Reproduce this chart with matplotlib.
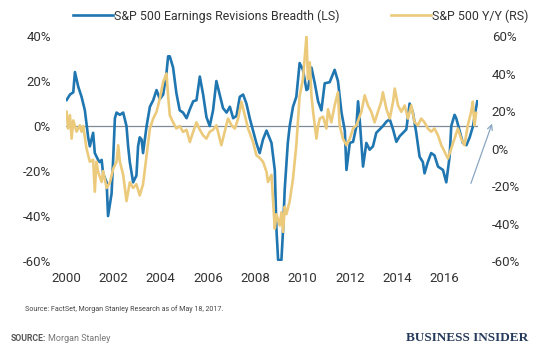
import matplotlib
matplotlib.use("Agg")
import matplotlib.pyplot as plt
from matplotlib.patches import FancyArrowPatch
from matplotlib.ticker import FuncFormatter

# S&P 500 Earnings Revisions Breadth (left scale, %)
breadth_years = [
    2000.02, 2000.16, 2000.30, 2000.37, 2000.51, 2000.65, 2000.79, 2000.93, 2001.00, 2001.14,
    2001.21, 2001.35, 2001.42, 2001.50, 2001.56, 2001.71, 2001.77, 2001.92, 2001.99, 2002.06,
    2002.13, 2002.27, 2002.41, 2002.55, 2002.62, 2002.69, 2002.83, 2002.97, 2003.04, 2003.11,
    2003.19, 2003.25, 2003.40, 2003.54, 2003.68, 2003.82, 2003.96, 2004.10, 2004.24, 2004.31,
    2004.38, 2004.52, 2004.66, 2004.80, 2004.94, 2005.09, 2005.23, 2005.37, 2005.51, 2005.65,
    2005.79, 2005.93, 2006.07, 2006.21, 2006.35, 2006.49, 2006.63, 2006.78, 2006.92, 2007.06,
    2007.20, 2007.34, 2007.48, 2007.62, 2007.76, 2007.90, 2008.04, 2008.18, 2008.32, 2008.47,
    2008.68, 2008.82, 2008.89, 2008.96, 2009.10, 2009.17, 2009.24, 2009.37, 2009.45, 2009.59,
    2009.73, 2009.87, 2010.01, 2010.16, 2010.22, 2010.37, 2010.51, 2010.65, 2010.79, 2010.93,
    2011.14, 2011.35, 2011.49, 2011.64, 2011.78, 2011.85, 2011.99, 2012.13, 2012.27, 2012.34,
    2012.41, 2012.55, 2012.69, 2012.83, 2012.97, 2013.11, 2013.25, 2013.39, 2013.54, 2013.68,
    2013.82, 2013.96, 2014.10, 2014.24, 2014.38, 2014.52, 2014.66, 2014.80, 2014.94, 2015.08,
    2015.15, 2015.29, 2015.43, 2015.57, 2015.72, 2015.93, 2016.07, 2016.21, 2016.28, 2016.42,
    2016.49, 2016.63, 2016.77, 2016.92, 2017.06, 2017.20, 2017.31, 2017.38,
]
breadth = [
    11.6, 14, 15, 24, 17.5, 13, 7, -5, -9, -3,
    -12, -15, -16, -15, -21, -25, -40, -30, -14, 3.5,
    6, 5, 6, 0, -9, -16, -25, -22, -9, -5,
    -6, -12, 0, 8.6, 11.5, 16, 12, 14, 23.5, 31,
    31, 26, 14.6, 7, 6, 3.5, 7.5, 11, 11.5, 22,
    14, 4, 0, 7, 20, 14, 8, 6, 8.6, 3.5,
    4.5, 13, 14, 10, 3.5, -2, -7.5, -12, -6, -2,
    -7.5, -19.6, -46, -59.5, -59.5, -46, -28, -7.5, 0, 8.6,
    13, 28, 25, 16, 16.5, 26, 19, 11, 7, 19,
    19.5, 25, 20, 6, -2, -19.5, -7.5, -7, 0, 11,
    2.7, -18, -7.5, -10.5, -9, -3, -1.5, 0, 2, 3,
    -1.5, -7, -4.5, -3, -1.5, 10, 6, -3, -13.6, -16,
    -21, -16, -12, -13, -18, -19.5, -25, -13.6, 0, 5,
    3.5, -2, -7.5, -8.5, -5, 0, 7, 11,
]

# S&P 500 Y/Y (right scale, %)
spx_years = [
    2000.02, 2000.08, 2000.16, 2000.23, 2000.30, 2000.44, 2000.58, 2000.65, 2000.72, 2000.86,
    2001.00, 2001.14, 2001.21, 2001.28, 2001.35, 2001.50, 2001.56, 2001.71, 2001.85, 2001.99,
    2002.13, 2002.20, 2002.27, 2002.41, 2002.55, 2002.69, 2002.83, 2002.97, 2003.11, 2003.25,
    2003.40, 2003.54, 2003.68, 2003.82, 2003.96, 2004.10, 2004.24, 2004.31, 2004.38, 2004.52,
    2004.66, 2004.80, 2004.94, 2005.09, 2005.23, 2005.37, 2005.51, 2005.65, 2005.79, 2005.93,
    2006.07, 2006.21, 2006.35, 2006.49, 2006.56, 2006.70, 2006.84, 2006.99, 2007.13, 2007.27,
    2007.41, 2007.55, 2007.69, 2007.90, 2008.04, 2008.18, 2008.32, 2008.47, 2008.53, 2008.68,
    2008.82, 2008.89, 2009.03, 2009.10, 2009.17, 2009.24, 2009.31, 2009.45, 2009.59, 2009.73,
    2009.87, 2010.01, 2010.16, 2010.22, 2010.30, 2010.37, 2010.44, 2010.58, 2010.65, 2010.72,
    2010.86, 2011.00, 2011.07, 2011.21, 2011.35, 2011.49, 2011.56, 2011.70, 2011.85, 2011.99,
    2012.13, 2012.27, 2012.48, 2012.62, 2012.76, 2012.90, 2013.04, 2013.18, 2013.32, 2013.39,
    2013.54, 2013.68, 2013.82, 2013.89, 2014.03, 2014.17, 2014.31, 2014.45, 2014.59, 2014.73,
    2014.87, 2015.01, 2015.15, 2015.29, 2015.43, 2015.57, 2015.72, 2015.86, 2016.00, 2016.14,
    2016.28, 2016.42, 2016.56, 2016.70, 2016.84, 2016.98, 2017.12, 2017.19, 2017.26, 2017.33,
]
spx = [
    19.6, 10.7, 17.8, 5.3, 15, 9, 12.4, 9, 12, 0,
    -7, -6, -23, -7, -12.4, -17.8, -12, -21, -18, -10.7,
    -7, 1.8, -7, -14, -28, -18, -21, -19, -25, -19,
    -3.5, 10.7, 16, 19.6, 26.7, 35.5, 40, 28, 17.8, 14,
    10.7, 12, 8.9, 10, 3.5, 9, 14, 10, 7, 5.3,
    9, 10, 12.4, 5.3, 1.8, 9, 16, 12.4, 10.7, 16,
    25, 17.8, 10.7, 3.5, -3.5, -5, -7, -12.4, -17.8, -14,
    -42.7, -35, -41, -34, -44.4, -31, -35, -28, -16, 1.8,
    28, 37, 60, 37, 46, 28, 19.6, 5.3, 12, 16,
    17, 10.7, 21, 14, 23, 30, 12.4, 5.3, 1.8, 5.3,
    10.7, 12.4, 19.6, 28.4, 23, 19.6, 14, 19.6, 25, 30,
    21, 16, 25, 32, 23, 19.6, 23, 16, 23, 14,
    12.4, 16, 14, 10.7, 9, 10.7, 7, 1.8, -1.8, -5.3,
    0, 5.3, 10.7, 5.3, 1.8, 12.4, 19.6, 25, 12.4, 19,
]

year_ticks = [2000, 2002, 2004, 2006, 2008, 2010, 2012, 2014, 2016]
left_ticks = [-60, -40, -20, 0, 20, 40]
right_ticks = [-60, -40, -20, 0, 20, 40, 60]

BLUE = "#1f76b0"
GOLD = "#ecca7c"
TEXT = "#333333"

plt.rcParams["font.family"] = ["Roboto", "DejaVu Sans"]

fig = plt.figure(figsize=(5.38, 3.5), dpi=100)
ax = fig.add_axes([0.123, 0.254, 0.765, 0.643])
ax2 = ax.twinx()

ax.axhline(0, color="#7d8b99", lw=0.9, zorder=1)
ax.plot(breadth_years, breadth, color=BLUE, lw=1.9, zorder=2,
        label="S&P 500 Earnings Revisions Breadth (LS)")
ax2.plot(spx_years, spx, color=GOLD, lw=1.9, zorder=2, label="S&P 500 Y/Y (RS)")

ax.set_xlim(2000, 2017.4)
ax.set_ylim(-60, 40)
ax2.set_ylim(-60, 60)
ax.set_xticks(year_ticks)
ax.set_yticks(left_ticks)
ax2.set_yticks(right_ticks)
pct = FuncFormatter(lambda v, p: f"{v:.0f}%")
ax.yaxis.set_major_formatter(pct)
ax2.yaxis.set_major_formatter(pct)

for a in (ax, ax2):
    for s in a.spines.values():
        s.set_visible(False)
    a.tick_params(length=0, labelsize=9.5, labelcolor=TEXT)
ax.tick_params(axis="x", pad=8)
ax.tick_params(axis="y", pad=11)
ax2.tick_params(axis="y", pad=10)

# legend along the top
h1, l1 = ax.get_legend_handles_labels()
h2, l2 = ax2.get_legend_handles_labels()
fig.legend(h1 + h2, l1 + l2, loc="upper left", bbox_to_anchor=(0.115, 1.005), ncol=2,
           frameon=False, fontsize=8.9, handlelength=3.2, handletextpad=0.1,
           columnspacing=4.2, labelcolor=TEXT)

# arrow at the right edge
arrow = FancyArrowPatch((470 / 538, 1 - 186 / 350), (493 / 538, 1 - 121 / 350),
                        transform=fig.transFigure, arrowstyle="->", mutation_scale=9,
                        color="#8aa6c1", lw=0.9)
fig.add_artist(arrow)

fig.text(0.046, 0.117, "Source: FactSet, Morgan Stanley Research as of May 18, 2017.",
         fontsize=5.1, color="#444444", va="center")
fig.text(0.019, 0.034, "SOURCE:", fontsize=6.2, color="#555555", va="center", fontweight="bold")
fig.text(0.089, 0.034, "Morgan Stanley", fontsize=6.5, color="#777777", va="center")
fig.text(0.982, 0.034, "BUSINESS INSIDER", fontsize=9.5, color="#25395a", va="center",
         ha="right", family=["Liberation Serif", "DejaVu Serif"], fontweight="bold")

fig.savefig("out.png", dpi=100)
